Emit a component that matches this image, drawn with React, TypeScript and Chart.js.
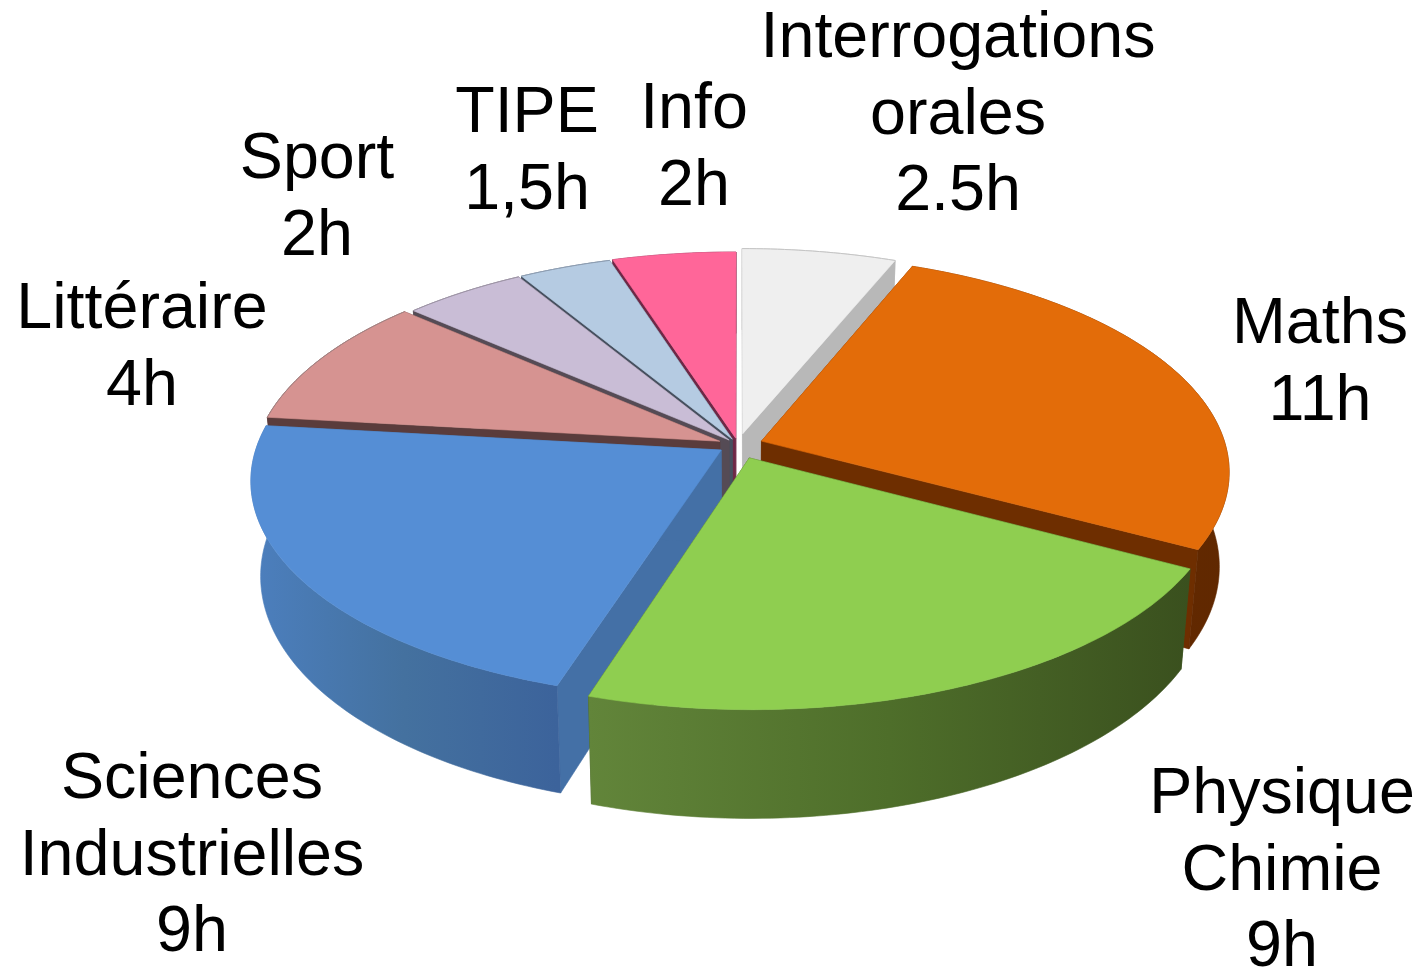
import React, { useEffect, useRef } from "react";
import { Chart, registerables } from "chart.js";

Chart.register(...registerables);

const categories = ["Interrogations orales", "Maths", "Physique Chimie", "Sciences Industrielles", "Littéraire", "Sport", "TIPE", "Info"];
const hours = [2.5, 11, 9, 9, 4, 2, 1.5, 2];
const labelLines = [
  ["Interrogations", "orales", "2.5h"],
  ["Maths", "11h"],
  ["Physique", "Chimie", "9h"],
  ["Sciences", "Industrielles", "9h"],
  ["Littéraire", "4h"],
  ["Sport", "2h"],
  ["TIPE", "1,5h"],
  ["Info", "2h"],
];
const topColors = ["#EFEFEF", "#E36C09", "#8FCE50", "#558ED5", "#D69391", "#C9BDD6", "#B5CBE2", "#FF6699"];
const explode = [25, 25, 30, 20, 20, 14, 14, 15];
const cutColors = ["#B8B8B8", "#6E2E00", "#3C5420", "#4470A6", "#5A3C3C", "#554B55", "#46505F", "#6E2846"];
const rimColors = [
  ["#B8B8B8", "#B8B8B8", "#B8B8B8"],
  ["#6E2E00", "#662A00", "#602800"],
  ["#62853A", "#4E6E2A", "#3A501E"],
  ["#4C7FBE", "#44719F", "#3C639B"],
  ["#5A3C3C", "#5A3C3C", "#5A3C3C"],
  ["#554B55", "#554B55", "#554B55"],
  ["#46505F", "#46505F", "#46505F"],
  ["#6E2846", "#6E2846", "#6E2846"],
];
const edgeColors = ["#C4C4C4", null, null, null, "#A08282", "#9C93A4", "#8C9CB0", null];
const labelAnchors = [
  [958, 57], [1320, 343], [1282, 813], [192, 798], [142, 328], [317, 178], [527, 132], [694, 128],
];

const FONT = '64.6px "Liberation Sans", Arial, sans-serif';
const LINE = 76.7;
const TILT = 0.46;
const PERSP = 0.000295;
const DEPTH = 93;
const TAPER = 0.000215;
const STEP = Math.PI / 180;

const pie3d = {
  id: "pie3d",
  beforeDatasetDraw(chart: any) {
    const ctx: CanvasRenderingContext2D = chart.ctx;
    const meta = chart.getDatasetMeta(0);
    const slices = meta.data.map((el: any, i: number) => {
      const { x, y, startAngle, endAngle, outerRadius } = el.getProps(["x", "y", "startAngle", "endAngle", "outerRadius"], true);
      const mid = (startAngle + endAngle) / 2;
      const off = el.options.offset || 0;
      const ox = Math.cos(mid) * off;
      const oy = Math.sin(mid) * off;
      const project = (X: number, Y: number, down: number) => {
        const f = 1 / (1 - Y * PERSP);
        return [x + X * f * (1 - down * TAPER), y + Y * TILT * f + down * f];
      };
      const rim = (down: number) => {
        const pts: number[][] = [];
        const n = Math.max(2, Math.ceil((endAngle - startAngle) / STEP));
        for (let k = 0; k <= n; k++) {
          const a = startAngle + ((endAngle - startAngle) * k) / n;
          pts.push(project(ox + Math.cos(a) * outerRadius, oy + Math.sin(a) * outerRadius, down));
        }
        return pts;
      };
      return { i, el, mid, ox, oy, project, rim };
    });
    const poly = (pts: number[][], fill: any) => {
      ctx.beginPath();
      pts.forEach((p, k) => (k ? ctx.lineTo(p[0], p[1]) : ctx.moveTo(p[0], p[1])));
      ctx.closePath();
      ctx.fillStyle = fill;
      ctx.strokeStyle = fill;
      ctx.lineWidth = 0.6;
      ctx.fill();
      ctx.stroke();
    };
    slices.sort((a: any, b: any) => Math.sin(a.mid) - Math.sin(b.mid));
    ctx.save();
    for (const s of slices) {
      const top = s.rim(0);
      const bottom = s.rim(DEPTH);
      const a0 = s.project(s.ox, s.oy, 0);
      const a1 = s.project(s.ox, s.oy, DEPTH);
      poly([a0, top[0], bottom[0], a1], cutColors[s.i]);
      poly([a0, top[top.length - 1], bottom[bottom.length - 1], a1], cutColors[s.i]);
      const xs = top.map((p: number[]) => p[0]);
      const g = ctx.createLinearGradient(Math.min(...xs), 0, Math.max(...xs), 0);
      g.addColorStop(0, rimColors[s.i][0]);
      g.addColorStop(0.5, rimColors[s.i][1]);
      g.addColorStop(1, rimColors[s.i][2]);
      poly([...top, ...bottom.slice().reverse()], g);
      poly([a0, ...top], s.el.options.backgroundColor);
      const edge = edgeColors[s.i];
      if (edge) {
        ctx.beginPath();
        top.forEach((p: number[], k: number) => (k ? ctx.lineTo(p[0], p[1]) : ctx.moveTo(p[0], p[1])));
        ctx.strokeStyle = edge;
        ctx.lineWidth = 1;
        ctx.stroke();
      }
    }
    ctx.restore();
    return false;
  },
  afterDatasetsDraw(chart: any) {
    const ctx: CanvasRenderingContext2D = chart.ctx;
    ctx.save();
    ctx.font = FONT;
    ctx.fillStyle = "#000000";
    ctx.textAlign = "center";
    ctx.textBaseline = "alphabetic";
    labelLines.forEach((lines, i) => {
      lines.forEach((t, k) => ctx.fillText(t, labelAnchors[i][0], labelAnchors[i][1] + k * LINE));
    });
    ctx.restore();
  },
};

export default function App() {
  const ref = useRef<HTMLCanvasElement | null>(null);
  useEffect(() => {
    document.body.style.margin = "0";
    document.body.style.background = "#FFFFFF";
    const chart = new Chart(ref.current as HTMLCanvasElement, {
      type: "pie",
      data: {
        labels: categories,
        datasets: [{ data: hours, backgroundColor: topColors, offset: explode, borderWidth: 0 }],
      },
      options: {
        responsive: false,
        animation: false,
        radius: 464,
        layout: { padding: { left: 53, bottom: 79, top: 0, right: 0 } },
        plugins: { legend: { display: false }, tooltip: { enabled: false } },
      },
      plugins: [pie3d],
    } as any);
    return () => chart.destroy();
  }, []);
  return <canvas ref={ref} width={1423} height={969} style={{ display: "block", width: 1423, height: 969 }} />;
}
